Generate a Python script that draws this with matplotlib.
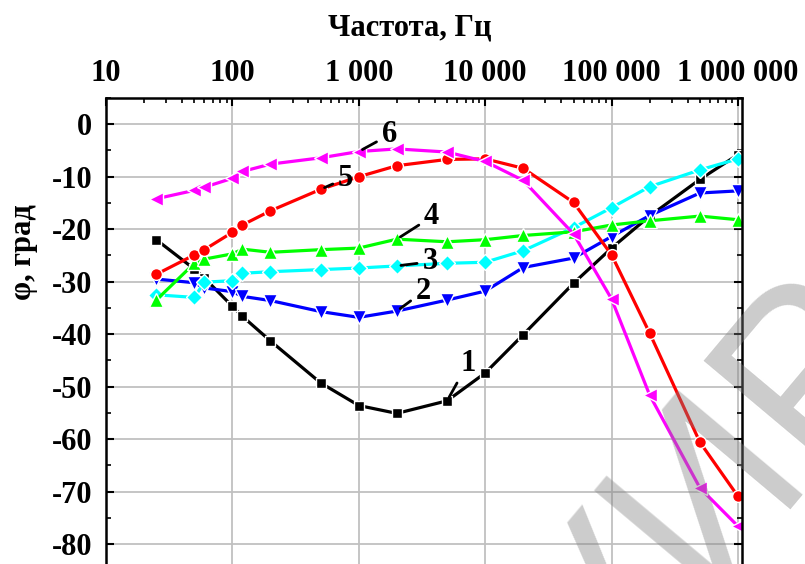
import matplotlib
matplotlib.use('Agg')
import matplotlib.pyplot as plt
from matplotlib.ticker import FixedLocator, LogLocator, FuncFormatter, MultipleLocator, NullFormatter

plt.rcParams['font.family'] = ['Liberation Serif', 'DejaVu Serif']
plt.rcParams['axes.unicode_minus'] = False

# frequency points, Hz
freq = [25, 50, 60, 100, 120, 200, 500, 1000, 2000, 5000,
        10000, 20000, 50000, 100000, 200000, 500000, 1000000]

# phase shift, degrees
phi1 = [-22.0, -27.6, -29.3, -34.7, -36.6, -41.3, -49.3, -53.6, -55.1, -52.7,
        -47.4, -40.1, -30.3, -23.6, -17.5, -10.5, -5.8]
phi2 = [-29.5, -30.2, -31.2, -31.9, -32.8, -33.6, -35.7, -36.8, -35.6, -33.5,
        -31.8, -27.3, -25.5, -21.4, -17.4, -13.1, -12.7]
phi3 = [-32.5, -33.0, -30.1, -29.8, -28.4, -28.1, -27.7, -27.4, -27.0, -26.5,
        -26.3, -24.1, -19.7, -15.9, -11.9, -8.7, -6.6]
phi4 = [-33.5, -26.5, -25.7, -24.7, -23.8, -24.4, -23.9, -23.6, -21.9, -22.4,
        -22.0, -21.2, -20.5, -19.2, -18.4, -17.5, -18.2]
phi5 = [-28.6, -24.9, -23.9, -20.6, -19.2, -16.5, -12.4, -10.0, -7.9, -6.7,
        -6.6, -8.4, -14.9, -24.9, -39.8, -60.6, -70.9]
phi6 = [-14.2, -12.6, -12.0, -10.3, -9.0, -7.6, -6.4, -5.2, -4.7, -5.3,
        -7.1, -10.7, -20.9, -33.3, -51.6, -69.3, -76.6]

curves = [phi1, phi2, phi3, phi4, phi5, phi6]
labels = ['1', '2', '3', '4', '5', '6']
colors = ['black', '#0000ff', '#00ffff', '#00ff00', '#ff0000', '#ff00ff']
markers = ['s', 'v', 'D', '^', 'o', '<']
msizes = [7.5, 10, 8.5, 10, 8.5, 10]

# which point each curve number points at, and where the number sits (points)
label_idx = [9, 8, 8, 8, 6, 7]
label_off = [(15, 27), (19, 14), (24, 3), (25, 16), (18, 8), (22, 12)]

xticks = [10, 100, 1000, 10000, 100000, 1000000]

fig = plt.figure(figsize=(8.05, 5.64), dpi=100)
ax = fig.add_axes([106 / 805, 0, 636 / 805, 466 / 564])

for y, c, m, ms in zip(curves, colors, markers, msizes):
    ax.plot(freq, y, color=c, lw=2.3, marker=m, ms=ms,
            mfc=c, mec='white', mew=1.0)

for lbl, y, i, off in zip(labels, curves, label_idx, label_off):
    ax.annotate(lbl, xy=(freq[i], y[i]), xytext=off, textcoords='offset points',
                ha='center', va='center', fontsize=22, fontweight='bold',
                arrowprops=dict(arrowstyle='-', color='black', lw=2,
                                shrinkA=-2, shrinkB=3))

ax.set_xscale('log')
ax.set_xlim(10, 1.076e6)
ax.set_ylim(-83.8, 5.0)

ax.xaxis.tick_top()
ax.xaxis.set_major_locator(FixedLocator(xticks))
ax.xaxis.set_major_formatter(FuncFormatter(lambda v, p: f"{int(round(v)):,}".replace(',', ' ')))
ax.xaxis.set_minor_locator(LogLocator(base=10, subs=range(2, 10)))
ax.xaxis.set_minor_formatter(NullFormatter())
ax.yaxis.set_major_locator(MultipleLocator(10))
ax.yaxis.set_minor_locator(MultipleLocator(5))

ax.tick_params(axis='x', which='both', direction='in', top=True, bottom=False,
               labeltop=True, labelbottom=False)
ax.tick_params(axis='y', which='both', direction='in', left=True, right=True,
               labelleft=True, labelright=False)
ax.tick_params(which='major', length=6, width=1.5, labelsize=22)
ax.tick_params(which='minor', length=3.5, width=1.2)
ax.tick_params(axis='x', pad=7)
ax.tick_params(axis='y', pad=10)
for t in ax.get_xticklabels() + ax.get_yticklabels():
    t.set_fontweight('bold')

ax.grid(True, which='major', color='#c0c0c0', lw=1.3)
ax.set_axisbelow(True)
for s in ['top', 'left', 'right']:
    ax.spines[s].set_linewidth(1.8)
ax.spines['bottom'].set_visible(False)

fig.text(410 / 805, 1 - 28 / 564, 'Частота, Гц', ha='center', va='center',
         fontsize=22, fontweight='bold')
fig.text(23 / 805, 1 - 252 / 564, 'φ, град', ha='center', va='center',
         rotation=90, fontsize=22, fontweight='bold')

# watermark
fig.text(0.77, -0.055, 'БГУИР', ha='center', va='center', rotation=50,
         fontsize=170, color='#808080', alpha=0.4, family='Liberation Sans',
         zorder=10)

fig.savefig('out.png', dpi=100)
